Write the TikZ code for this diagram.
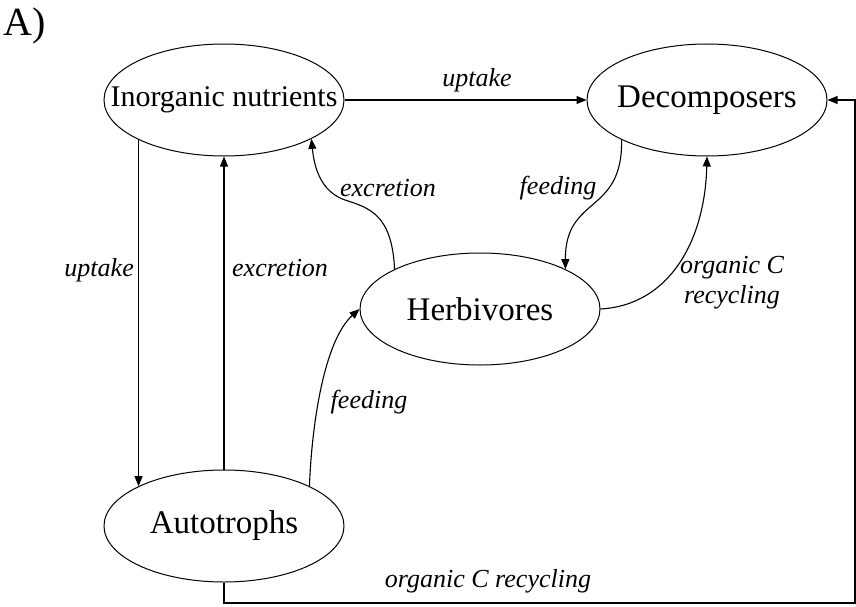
\documentclass[tikz,border=0pt]{standalone}
\usepackage{fontspec}
\setmainfont{Liberation Serif}
\usetikzlibrary{arrows.meta,shapes.geometric}
\begin{document}
\begin{tikzpicture}[x=1pt,y=-1pt,
  box/.style={ellipse,draw,line width=1pt,minimum width=240pt,minimum height=112pt,inner sep=0pt,font=\fontsize{33}{36}\selectfont},
  lab/.style={font=\fontsize{26}{30}\selectfont\itshape,inner sep=0pt},
  ln/.style={line width=1.1pt},
  arr/.style={ln,-{Triangle[length=10pt,width=8pt]}}]
\useasboundingbox (0,0) rectangle (856,607);
\node[font=\fontsize{40}{44}\selectfont,inner sep=0pt,anchor=base west] (title) at (3,36) {A)};
\node[box,font=\fontsize{30}{34}\selectfont] (inorg) at (224,100) {\makebox[0pt]{Inorganic nutrients}};
\node[box] (decomp) at (707,100) {\makebox[0pt]{Decomposers}};
\node[box] (herb) at (480,309) {\makebox[0pt]{Herbivores}};
\node[box] (auto) at (224,526) {\makebox[0pt]{Autotrophs}};
\coordinate (cr) at (855,603);
% connectors
\draw[arr] (inorg.east) -- (decomp.west);
\draw[arr] (inorg.205) -- (auto.155);
\draw[arr] (auto.north) -- (inorg.south);
\draw[arr] (herb.155) .. controls (392,215) and (370,208) .. (345,200) .. controls (325,193) and (315,175) .. (inorg.-24);
\draw[arr] (decomp.205) .. controls (623,215) and (565,195) .. (herb.25);
\draw[arr] (herb.east) .. controls (670,305) and (705,240) .. (decomp.south);
\draw[arr] (auto.25) .. controls (312,420) and (325,340) .. (herb.west);
\draw[arr] (auto.south) |- (cr) |- (decomp.east);
% labels
\node[lab] (l1) at (477,80) {uptake};
\node[lab,anchor=east] (l2) at (134,270) {uptake};
\node[lab,anchor=west] (l3) at (232,268) {excretion};
\node[lab] (l4) at (388,188) {excretion};
\node[lab] (l5) at (558,188) {feeding};
\node[lab] (l6) at (369,402) {feeding};
\node[lab,align=center] (l7) at (732,283) {organic C\\recycling};
\node[lab] (l8) at (488,581) {organic C recycling};
\end{tikzpicture}
\end{document}
